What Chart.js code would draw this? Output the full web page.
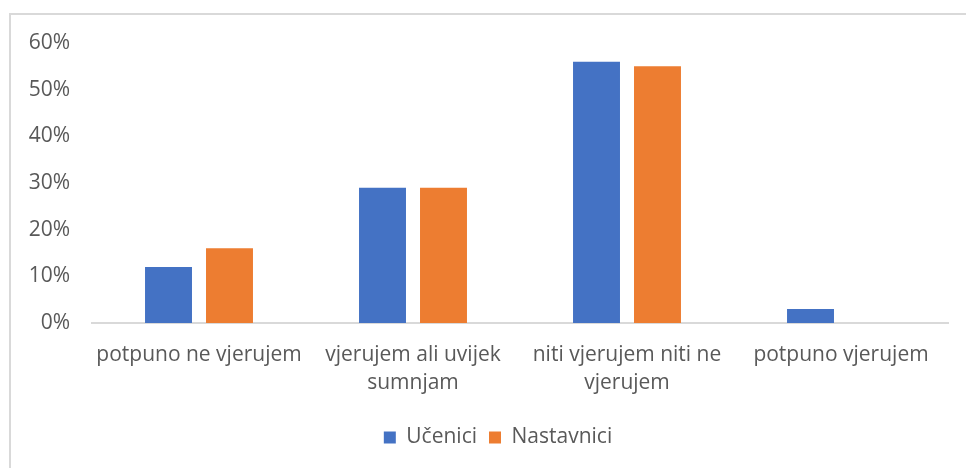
<!DOCTYPE html>
<html>
<head>
<meta charset="utf-8">
<script src="https://cdn.jsdelivr.net/npm/chart.js@4"></script>
<style>
  html, body { margin: 0; padding: 0; background: #ffffff; }
  #wrap { position: relative; width: 966px; height: 468px; }
  #frame { position: absolute; left: 9px; top: 13px; width: 957px; height: 455px;
           border-top: 2px solid #d9d9d9; border-left: 2px solid #d9d9d9; box-sizing: border-box; pointer-events: none; }
  canvas { position: absolute; left: 0; top: 0; }
</style>
</head>
<body>
<div id="wrap">
  <canvas id="c" width="966" height="468"></canvas>
  <div id="frame"></div>
</div>
<script>
const categories = [
  "potpuno ne vjerujem",
  ["vjerujem ali uvijek", "sumnjam"],
  ["niti vjerujem niti ne", "vjerujem"],
  "potpuno vjerujem"
];
const seriesNames = ["Učenici", "Nastavnici"];
const ucenici = [12, 29, 56, 3];
const nastavnici = [16, 29, 55, 0];
const yTicks = [0, 10, 20, 30, 40, 50, 60];

const FONT = "'Open Sans', 'DejaVu Sans', sans-serif";
const TXT = "#595959";

const legendShift = {
  id: 'legendShift',
  afterLayout(chart) {
    const lg = chart.legend;
    if (lg) { lg.left += 18; lg.right += 18; }
  }
};

new Chart(document.getElementById('c'), {
  type: 'bar',
  data: {
    labels: categories,
    datasets: [
      { label: seriesNames[0], data: ucenici, backgroundColor: '#4472C4',
        barPercentage: 0.77, categoryPercentage: 0.57 },
      { label: seriesNames[1], data: nastavnici, backgroundColor: '#ED7D31',
        barPercentage: 0.77, categoryPercentage: 0.57 }
    ]
  },
  plugins: [legendShift],
  options: {
    responsive: false,
    animation: false,
    layout: { padding: { left: 12, right: 18, top: 43, bottom: 10 } },
    plugins: {
      tooltip: { enabled: false },
      legend: {
        position: 'bottom',
        labels: {
          boxWidth: 12, boxHeight: 12, padding: 12,
          color: TXT, font: { family: FONT, size: 21 }
        }
      }
    },
    scales: {
      x: {
        grid: { display: false, drawTicks: false },
        border: { display: true, color: '#d9d9d9', width: 2 },
        ticks: { color: TXT, font: { family: FONT, size: 21, lineHeight: 1.34 }, padding: 18, maxRotation: 0, autoSkip: false },
        afterFit: s => { s.height = 92; }
      },
      y: {
        min: 0, max: 60,
        afterBuildTicks: s => { s.ticks = yTicks.map(v => ({ value: v })); },
        grid: { display: false, drawTicks: false },
        border: { display: false },
        ticks: { color: TXT, font: { family: FONT, size: 21 }, padding: 22, callback: v => v + '%' },
        afterFit: s => { s.width = 80; }
      }
    }
  }
});
</script>
</body>
</html>
